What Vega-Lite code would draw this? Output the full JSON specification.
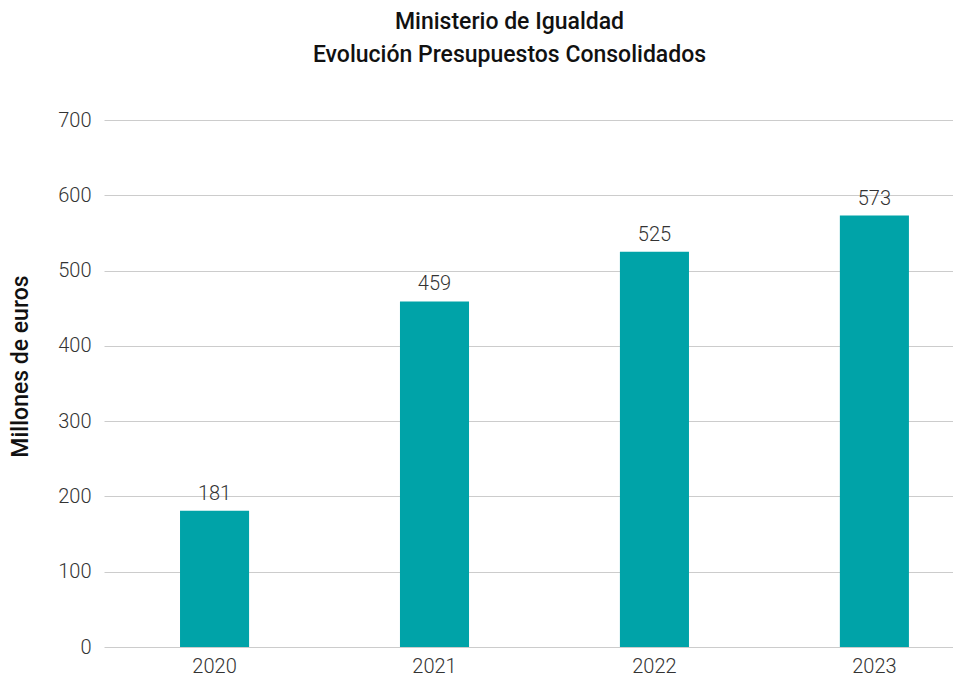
{
  "$schema": "https://vega.github.io/schema/vega-lite/v6.json",
  "width": 849,
  "height": 527,
  "autosize": {"type": "none"},
  "padding": {"left": 104, "top": 120, "right": 0, "bottom": 32},
  "background": "white",
  "config": {"view": {"stroke": null}, "font": "Roboto"},
  "title": {
    "text": ["Ministerio de Igualdad", "Evolución Presupuestos Consolidados"],
    "font": "Roboto",
    "fontSize": 23,
    "fontWeight": 500,
    "color": "#111111",
    "anchor": "middle",
    "frame": "group",
    "dx": -19,
    "lineHeight": 33,
    "offset": 43
  },
  "data": {
    "values": [
      {"year": "2020", "value": 181},
      {"year": "2021", "value": 459},
      {"year": "2022", "value": 525},
      {"year": "2023", "value": 573}
    ]
  },
  "encoding": {
    "x": {
      "field": "year",
      "type": "nominal",
      "sort": null,
      "scale": {"paddingInner": 0.686, "paddingOuter": 0.273, "align": 0.633},
      "axis": {
        "title": null,
        "labelAngle": 0,
        "ticks": false,
        "domain": false,
        "labelFont": "Roboto",
        "labelFontWeight": 300,
        "labelFontSize": 20,
        "labelColor": "#333333",
        "labelPadding": 9
      }
    },
    "y": {
      "field": "value",
      "type": "quantitative",
      "scale": {"domain": [0, 700], "nice": false},
      "axis": {
        "title": "Millones de euros",
        "titleFont": "Roboto",
        "titleFontSize": 23,
        "titleFontWeight": 500,
        "titleColor": "#111111",
        "titleAngle": 270,
        "titleX": -84,
        "titleY": 246,
        "titleAlign": "center",
        "titleBaseline": "middle",
        "values": [0, 100, 200, 300, 400, 500, 600, 700],
        "ticks": false,
        "domain": false,
        "grid": true,
        "gridColor": "#cccccc",
        "gridWidth": 1,
        "labelFont": "Roboto",
        "labelFontWeight": 300,
        "labelFontSize": 20,
        "labelColor": "#333333",
        "labelPadding": 13
      }
    }
  },
  "layer": [
    {"mark": {"type": "bar", "color": "#00a3a8"}},
    {
      "mark": {"type": "text", "baseline": "bottom", "dy": -7, "font": "Roboto", "fontWeight": 300, "fontSize": 20, "color": "#333333"},
      "encoding": {"text": {"field": "value", "type": "quantitative"}}
    }
  ]
}
